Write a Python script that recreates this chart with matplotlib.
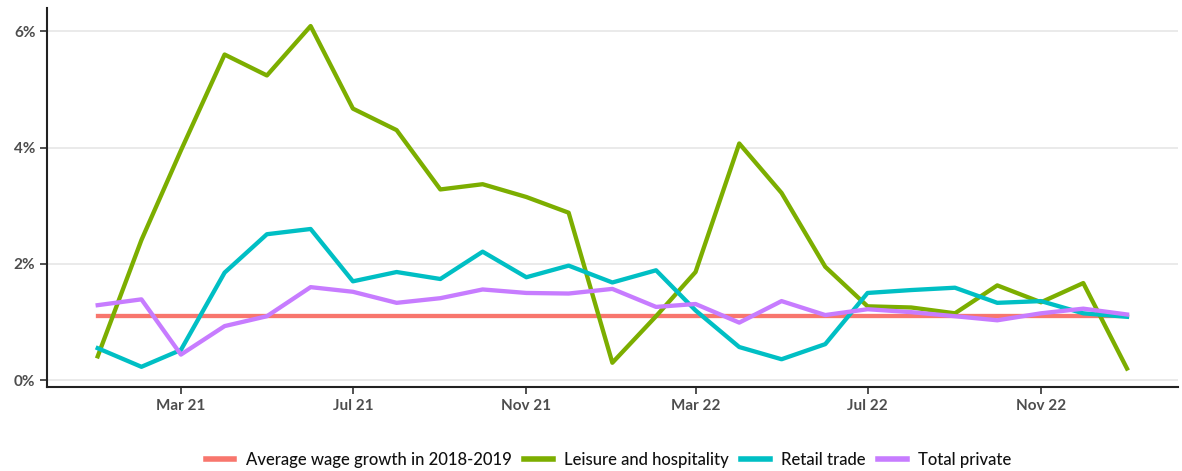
import matplotlib
matplotlib.use('Agg')
import matplotlib.pyplot as plt
import matplotlib.dates as mdates
import numpy as np
import pandas as pd

months = pd.date_range('2021-01-01', '2023-01-01', freq='MS')

avg_2018_2019 = [1.10] * len(months)
leisure = [0.41, 2.41, 3.95, 5.60, 5.24, 6.09, 4.67, 4.30, 3.28, 3.37, 3.15, 2.88,
           0.30, 1.10, 1.86, 4.07, 3.22, 1.95, 1.27, 1.25, 1.15, 1.63, 1.34, 1.67, 0.20]
retail = [0.55, 0.23, 0.52, 1.85, 2.51, 2.60, 1.70, 1.86, 1.74, 2.21, 1.77, 1.97,
          1.68, 1.89, 1.20, 0.57, 0.36, 0.62, 1.50, 1.55, 1.59, 1.33, 1.36, 1.15, 1.09]
total_private = [1.29, 1.39, 0.44, 0.93, 1.10, 1.60, 1.52, 1.33, 1.41, 1.56, 1.50, 1.49,
                 1.57, 1.26, 1.31, 0.99, 1.36, 1.12, 1.22, 1.17, 1.10, 1.03, 1.15, 1.23, 1.13]

series = [
    ('Average wage growth in 2018-2019', avg_2018_2019, '#F8766D'),
    ('Leisure and hospitality', leisure, '#7CAE00'),
    ('Retail trade', retail, '#00BFC4'),
    ('Total private', total_private, '#C77CFF'),
]

plt.rcParams['font.family'] = ['Lato', 'DejaVu Sans']

fig = plt.figure(figsize=(11.82, 4.71), dpi=100)
ax = fig.add_axes([0.040, 0.178, 0.957, 0.805])

for name, vals, col in series:
    ax.plot(months, np.array(vals) / 100, color=col, lw=3.1, label=name)

span = months[-1] - months[0]
ax.set_xlim(months[0] - span * 0.049, months[-1] + span * 0.05)
ax.set_ylim(-0.0012, 0.064)
ax.set_yticks([0, 0.02, 0.04, 0.06])
ax.yaxis.set_major_formatter(matplotlib.ticker.FuncFormatter(lambda v, p: f'{v*100:.0f}%'))

ticks = pd.to_datetime(['2021-03-01', '2021-07-01', '2021-11-01',
                        '2022-03-01', '2022-07-01', '2022-11-01'])
ax.set_xticks(ticks)
ax.xaxis.set_major_formatter(mdates.DateFormatter('%b %y'))

ax.grid(axis='y', color='#e6e6e6', lw=1.2)
ax.set_axisbelow(True)
for s in ['top', 'right']:
    ax.spines[s].set_visible(False)
for s in ['left', 'bottom']:
    ax.spines[s].set_linewidth(1.5)
    ax.spines[s].set_color('#222222')
ax.tick_params(axis='both', length=5, width=1.2, color='#333333',
               labelsize=11, labelcolor='#4d4d4d')
for lab in ax.get_xticklabels() + ax.get_yticklabels():
    lab.set_fontweight('bold')

leg = fig.legend(loc='lower center', bbox_to_anchor=(0.515, -0.025), ncol=4, frameon=False,
                 fontsize=12, handlelength=1.7, columnspacing=0.75, handletextpad=0.7)
for h in leg.get_lines():
    h.set_linewidth(4)
for t in leg.get_texts():
    t.set_color('#111111')
    t.set_fontweight('medium')

fig.savefig('out.png', dpi=100)
